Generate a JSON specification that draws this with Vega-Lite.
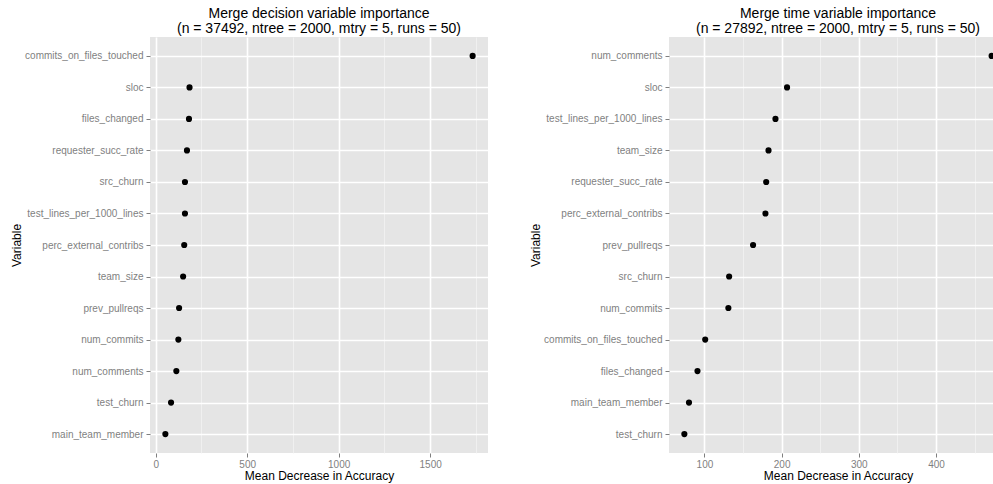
{
  "$schema": "https://vega.github.io/schema/vega-lite/v6.json",
  "background": "white",
  "padding": {"left": 10, "top": 7, "right": 5, "bottom": 5},
  "spacing": 41,
  "config": {
    "font": "Liberation Sans",
    "view": {"fill": "#E5E5E5", "stroke": null},
    "title": {"fontSize": 14, "fontWeight": "normal", "font": "Liberation Sans", "color": "black", "anchor": "middle", "frame": "group", "offset": 1, "lineHeight": 15},
    "axis": {
      "domain": false,
      "labelColor": "#7F7F7F",
      "labelFont": "Liberation Sans",
      "labelFontSize": 10,
      "tickColor": "#7F7F7F",
      "tickSize": 4,
      "titleFont": "Liberation Sans",
      "titleFontSize": 12,
      "titleFontWeight": "normal",
      "titleColor": "black",
      "gridColor": "white",
      "gridWidth": 1.6
    },
    "axisY": {"labelPadding": 3, "minExtent": 125, "maxExtent": 125, "titlePadding": 2, "grid": true},
    "axisX": {"labelPadding": 2, "titlePadding": 1}
  },
  "datasets": {
    "decision": [
      {"variable": "commits_on_files_touched", "importance": 1732},
      {"variable": "sloc", "importance": 185},
      {"variable": "files_changed", "importance": 182},
      {"variable": "requester_succ_rate", "importance": 171},
      {"variable": "src_churn", "importance": 160},
      {"variable": "test_lines_per_1000_lines", "importance": 160},
      {"variable": "perc_external_contribs", "importance": 156},
      {"variable": "team_size", "importance": 150},
      {"variable": "prev_pullreqs", "importance": 128},
      {"variable": "num_commits", "importance": 124},
      {"variable": "num_comments", "importance": 113},
      {"variable": "test_churn", "importance": 84},
      {"variable": "main_team_member", "importance": 53}
    ],
    "time": [
      {"variable": "num_comments", "importance": 472},
      {"variable": "sloc", "importance": 207},
      {"variable": "test_lines_per_1000_lines", "importance": 192},
      {"variable": "team_size", "importance": 183},
      {"variable": "requester_succ_rate", "importance": 180},
      {"variable": "perc_external_contribs", "importance": 179},
      {"variable": "prev_pullreqs", "importance": 163},
      {"variable": "src_churn", "importance": 132},
      {"variable": "num_commits", "importance": 131},
      {"variable": "commits_on_files_touched", "importance": 101},
      {"variable": "files_changed", "importance": 91},
      {"variable": "main_team_member", "importance": 80},
      {"variable": "test_churn", "importance": 74}
    ]
  },
  "hconcat": [
    {
      "width": 338,
      "height": 416,
      "title": {"text": ["Merge decision variable importance", "(n = 37492, ntree = 2000, mtry = 5, runs = 50)"]},
      "data": {"name": "decision"},
      "mark": {"type": "point", "filled": true, "color": "black", "opacity": 1, "size": 38},
      "encoding": {
        "x": {
          "field": "importance", "type": "quantitative",
          "scale": {"domain": [-31, 1816], "nice": false, "zero": false},
          "title": "Mean Decrease in Accuracy",
          "axis": {
            "values": [0, 250, 500, 750, 1000, 1250, 1500, 1750],
            "labelExpr": "datum.value % 500 === 0 ? datum.label : ''",
            "format": "d",
            "gridColor": {"condition": {"test": "datum.value % 500 === 0", "value": "white"}, "value": "#F2F2F2"},
            "gridWidth": {"condition": {"test": "datum.value % 500 === 0", "value": 1.6}, "value": 0.8},
            "tickOpacity": {"condition": {"test": "datum.value % 500 === 0", "value": 1}, "value": 0}
          }
        },
        "y": {
          "field": "variable", "type": "nominal", "sort": null,
          "scale": {"type": "point", "padding": 0.6},
          "title": "Variable"
        }
      }
    },
    {
      "width": 338,
      "height": 416,
      "title": {"text": ["Merge time variable importance", "(n = 27892, ntree = 2000, mtry = 5, runs = 50)"]},
      "data": {"name": "time"},
      "mark": {"type": "point", "filled": true, "color": "black", "opacity": 1, "size": 38},
      "encoding": {
        "x": {
          "field": "importance", "type": "quantitative",
          "scale": {"domain": [54.1, 491.9], "nice": false, "zero": false},
          "title": "Mean Decrease in Accuracy",
          "axis": {
            "values": [100, 150, 200, 250, 300, 350, 400, 450],
            "labelExpr": "datum.value % 100 === 0 ? datum.label : ''",
            "format": "d",
            "gridColor": {"condition": {"test": "datum.value % 100 === 0", "value": "white"}, "value": "#F2F2F2"},
            "gridWidth": {"condition": {"test": "datum.value % 100 === 0", "value": 1.6}, "value": 0.8},
            "tickOpacity": {"condition": {"test": "datum.value % 100 === 0", "value": 1}, "value": 0}
          }
        },
        "y": {
          "field": "variable", "type": "nominal", "sort": null,
          "scale": {"type": "point", "padding": 0.6},
          "title": "Variable"
        }
      }
    }
  ]
}
